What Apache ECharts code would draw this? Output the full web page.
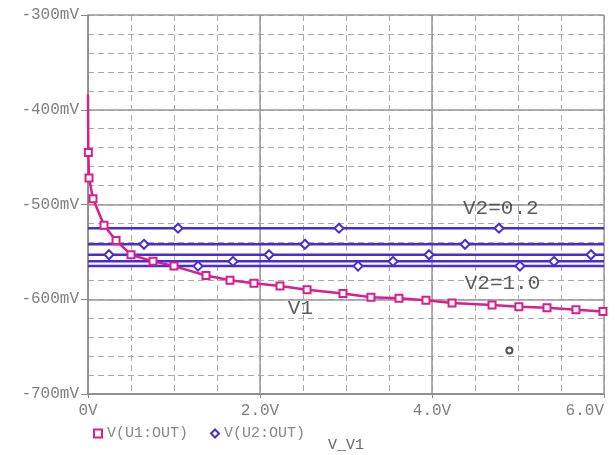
<!DOCTYPE html>
<html>
<head>
<meta charset="utf-8">
<script src="https://cdn.jsdelivr.net/npm/echarts@6/dist/echarts.min.js"></script>
<style>
  html, body { margin: 0; padding: 0; background: #fff; }
  #chartBox { width: 616px; height: 455px; }
</style>
</head>
<body>
<div id="chartBox"></div>
<script>
// V(U1:OUT) trace, [V_V1 (V), mV]; first point has no marker
const u1X = [0, 0.004, 0.012, 0.058, 0.186, 0.326, 0.5, 0.756, 1.0, 1.372, 1.651, 1.93,
  2.233, 2.547, 2.965, 3.29, 3.616, 3.93, 4.233, 4.698, 5.01, 5.337, 5.674, 5.988];
const u1Y = [-384, -445, -472, -494, -522, -538, -553, -560, -565, -575, -580, -583,
  -586, -590, -594, -598, -599, -601, -604, -606, -608, -609, -611, -613];

// V(U2:OUT) traces, one per V2 step (flat lines)
const v2Steps = ["0.2", "0.4", "0.6", "0.8", "1.0"];
const u2Levels = [-525, -542, -553, -560, -565];
const u2Markers = [
  [1.047, 2.919, 4.779],
  [0.651, 2.523, 4.384],
  [0.244, 2.105, 3.965, 5.849],
  [1.686, 3.547, 5.419],
  [1.279, 3.14, 5.023],
];

// stray cursor mark
const strayPoint = [4.9, -654];

// annotation texts and where they sit
const noteTexts = ["V2=0.2", "V2=1.0", "V1"];
const noteX = [4.8, 4.82, 2.47];
const noteY = [-504, -583, -610];

const xTicks = [0, 2, 4, 6];
const yTicks = [-700, -600, -500, -400, -300];

const mono = "'Liberation Mono', 'DejaVu Sans Mono', monospace";
const magenta = "#d81f8e";
const blue = "#4b2bd2";

const chartDom = document.getElementById("chartBox");
const myChart = echarts.init(chartDom);

const u1Data = u1X.map((x, i) =>
  i === 0 ? { value: [x, u1Y[i]], symbol: "none" } : [x, u1Y[i]]
);

const u2Series = u2Levels.map((lvl, k) => ({
  name: "V(U2:OUT)",
  type: "line",
  xAxisIndex: 0,
  yAxisIndex: 0,
  symbol: "emptyDiamond",
  symbolSize: 9,
  color: blue,
  lineStyle: { width: 2.5, color: blue },
  itemStyle: { color: blue, borderWidth: 2 },
  z: 3,
  data: [{ value: [0, lvl], symbol: "none" }]
    .concat(u2Markers[k].map((x) => [x, lvl]))
    .concat([{ value: [6, lvl], symbol: "none" }]),
}));

const option = {
  backgroundColor: "#fff",
  animation: false,
  grid: { left: 88, right: 12, top: 15, bottom: 61, outerBoundsMode: "none" },
  legend: {
    left: 88,
    top: 421,
    itemWidth: 8,
    itemHeight: 8,
    itemGap: 22,
    textStyle: { fontFamily: mono, fontSize: 15, color: "#888" },
    data: [
      { name: "V(U1:OUT)", icon: "emptyRect" },
      { name: "V(U2:OUT)", icon: "emptyDiamond" },
    ],
  },
  xAxis: [
    {
      type: "value",
      min: 0,
      max: 6,
      interval: 0.5,
      axisLine: { show: true, lineStyle: { color: "#888", width: 1.5 } },
      axisTick: { show: false },
      axisLabel: { show: false },
      splitLine: { show: true, lineStyle: { color: "#aaa", type: [6, 4], width: 1 } },
    },
    {
      type: "value",
      position: "bottom",
      min: 0,
      max: 6,
      interval: 2,
      name: "V_V1",
      nameLocation: "middle",
      nameGap: 44,
      nameTextStyle: { fontFamily: mono, fontSize: 15, color: "#666" },
      axisLine: { show: false },
      axisTick: { show: true, length: 4, inside: false, lineStyle: { color: "#888" } },
      axisLabel: {
        margin: 9,
        fontFamily: mono,
        fontSize: 16,
        color: "#808080",
        alignMaxLabel: "right",
        formatter: (v) => (xTicks.includes(v) ? (v === 0 ? "0V" : v.toFixed(1) + "V") : ""),
      },
      splitLine: { show: true, lineStyle: { color: "#999", width: 1.5 } },
    },
  ],
  yAxis: [
    {
      type: "value",
      min: -700,
      max: -300,
      interval: 20,
      axisLine: { show: true, lineStyle: { color: "#888", width: 1.5 } },
      axisTick: { show: false },
      axisLabel: { show: false },
      splitLine: { show: true, lineStyle: { color: "#aaa", type: [6, 4], width: 1 } },
    },
    {
      type: "value",
      position: "left",
      min: -700,
      max: -300,
      interval: 100,
      axisLine: { show: false },
      axisTick: { show: true, length: 7, inside: false, lineStyle: { color: "#888" } },
      axisLabel: {
        margin: 9,
        fontFamily: mono,
        fontSize: 16,
        color: "#808080",
        formatter: (v) => (yTicks.includes(v) ? v + "mV" : ""),
      },
      splitLine: { show: true, lineStyle: { color: "#999", width: 1.5 } },
    },
  ],
  series: [
    {
      name: "V(U1:OUT)",
      type: "line",
      xAxisIndex: 0,
      yAxisIndex: 0,
      symbol: "emptyRect",
      symbolSize: 7,
      color: magenta,
      lineStyle: { width: 2.5, color: magenta },
      itemStyle: { color: magenta, borderWidth: 2 },
      z: 4,
      data: u1Data,
    },
    ...u2Series,
    {
      name: "cursor",
      type: "scatter",
      symbol: "emptyCircle",
      symbolSize: 6,
      itemStyle: { color: "#222", borderWidth: 1.5 },
      data: [strayPoint],
    },
    {
      name: "notes",
      type: "scatter",
      symbolSize: 1,
      itemStyle: { color: "rgba(0,0,0,0)" },
      z: 6,
      label: {
        show: true,
        position: "inside",
        fontFamily: mono,
        fontSize: 21,
        color: "#333",
        formatter: (p) => noteTexts[p.dataIndex],
      },
      data: noteX.map((x, i) => [x, noteY[i]]),
    },
  ],
};

myChart.setOption(option);
</script>
</body>
</html>
